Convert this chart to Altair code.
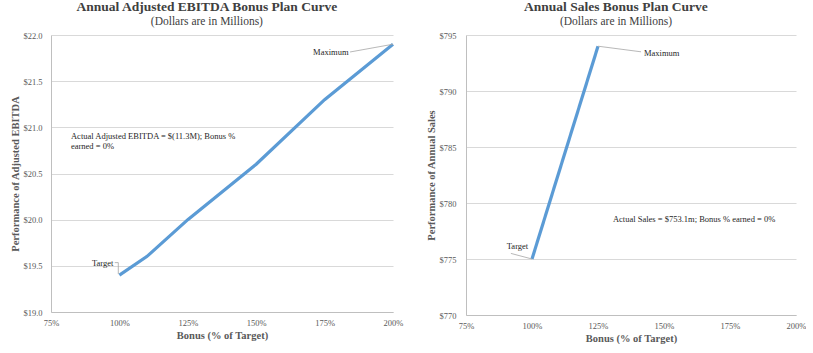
import altair as alt
import pandas as pd

# ---- data ----
ebitda_bonus = [1.00, 1.10, 1.25, 1.50, 1.75, 2.00]
ebitda_perf = [19.4, 19.6, 20.0, 20.6, 21.3, 21.9]
sales_bonus = [1.00, 1.25]
sales_perf = [775.0, 794.0]
x_ticks = [0.75, 1.00, 1.25, 1.50, 1.75, 2.00]
ebitda_ticks = [19.0, 19.5, 20.0, 20.5, 21.0, 21.5, 22.0]
sales_ticks = [770, 775, 780, 785, 790, 795]

# annotation labels (data coordinates)
ebitda_labels = ["Target", "Maximum", "Actual Adjusted EBITDA = $(11.3M); Bonus %\nearned = 0%"]
ebitda_lab_x = [0.978, 1.708, 0.823]
ebitda_lab_y = [19.535, 21.816, 20.906]
ebitda_lab_align = ["right", "left", "left"]
ebitda_lead_id = [0, 0, 0, 1, 1]
ebitda_lead_x = [0.983, 0.996, 0.996, 1.843, 2.00]
ebitda_lead_y = [19.535, 19.535, 19.41, 21.816, 21.90]

sales_labels = ["Target", "Maximum", "Actual Sales = $753.1m; Bonus % earned = 0%"]
sales_lab_x = [0.945, 1.424, 1.614]
sales_lab_y = [776.2, 793.4, 778.6]
sales_lab_align = ["center", "left", "center"]
sales_lead_id = [0, 0, 1, 1]
sales_lead_x = [0.920, 1.00, 1.413, 1.25]
sales_lead_y = [775.5, 775.0, 793.5, 794.0]

FONT = "Liberation Serif"
LINE_COLOR = "#5b9bd5"
TEXT_COLOR = "#404040"
AXIS_COLOR = "#595959"


def panel(title, xs, ys, yticks, ydomain, yfmt, ytitle, lab, labx, laby, labalign,
          lid, lx, ly, w, h, ylabpad, ytitlepad):
    xscale = alt.Scale(domain=[0.75, 2.0], nice=False, zero=False)
    yscale = alt.Scale(domain=ydomain, nice=False, zero=False)
    xaxis = alt.Axis(values=x_ticks, format=".0%", title="Bonus (% of Target)",
                     grid=False, ticks=False, labelPadding=6, titlePadding=4,
                     labelFlush=False, labelOverlap=False,
                     domainColor="#bfbfbf", labelFont=FONT, labelFontSize=8.5,
                     labelColor=AXIS_COLOR, titleFont=FONT, titleFontSize=10.5,
                     titleFontWeight="bold", titleColor=AXIS_COLOR)
    yaxis = alt.Axis(values=yticks, format=yfmt, title=ytitle, grid=True,
                     gridColor="#d9d9d9", ticks=False, labelPadding=ylabpad,
                     labelFlush=False, labelOverlap=False,
                     titlePadding=ytitlepad, domainColor="#bfbfbf", labelFont=FONT,
                     labelFontSize=8.5, labelColor=AXIS_COLOR, titleFont=FONT,
                     titleFontSize=10.5, titleFontWeight="bold", titleColor=AXIS_COLOR)

    df = pd.DataFrame({"x": xs, "y": ys})
    line = alt.Chart(df).mark_line(color=LINE_COLOR, strokeWidth=3.2).encode(
        x=alt.X("x:Q", scale=xscale, axis=xaxis),
        y=alt.Y("y:Q", scale=yscale, axis=yaxis),
    )

    ldf = pd.DataFrame({"id": lid, "x": lx, "y": ly, "o": list(range(len(lx)))})
    leaders = alt.Chart(ldf).mark_line(color="#a6a6a6", strokeWidth=0.8).encode(
        x=alt.X("x:Q", scale=xscale),
        y=alt.Y("y:Q", scale=yscale),
        detail="id:N",
        order="o:Q",
    )

    layers = [line, leaders]
    for t, tx, ty, ta in zip(lab, labx, laby, labalign):
        tdf = pd.DataFrame({"x": [tx], "y": [ty], "t": [t]})
        layers.append(
            alt.Chart(tdf).mark_text(font=FONT, fontSize=8.5, color="#262626",
                                     align=ta, baseline="middle", lineBreak="\n",
                                     lineHeight=9.5).encode(
                x=alt.X("x:Q", scale=xscale),
                y=alt.Y("y:Q", scale=yscale),
                text="t:N",
            )
        )

    return alt.layer(*layers).properties(
        width=w, height=h,
        title=alt.TitleParams(
            text=title, subtitle="(Dollars are in Millions)", font=FONT,
            fontSize=13.5, fontWeight="bold", color=TEXT_COLOR,
            subtitleFont=FONT, subtitleFontSize=11.5, subtitleColor=TEXT_COLOR,
            anchor="middle", frame="bounds", offset=4, subtitlePadding=2,
        ),
    )


left = panel("Annual Adjusted EBITDA Bonus Plan Curve", ebitda_bonus, ebitda_perf,
             ebitda_ticks, [19.0, 22.0], "$.1f", "Performance of Adjusted EBITDA",
             ebitda_labels, ebitda_lab_x, ebitda_lab_y, ebitda_lab_align,
             ebitda_lead_id, ebitda_lead_x, ebitda_lead_y, 342, 277, 9, 2)
right = panel("Annual Sales Bonus Plan Curve", sales_bonus, sales_perf,
              sales_ticks, [770, 795], "$.0f", "Performance of Annual Sales",
              sales_labels, sales_lab_x, sales_lab_y, sales_lab_align,
              sales_lead_id, sales_lead_x, sales_lead_y, 330, 280, 10, 3)

chart = alt.hconcat(left, right, spacing=23).properties(
    padding={"left": 10, "top": 0, "right": 0, "bottom": 0},
    background="white",
).configure_view(stroke=None)

chart.save("out.html", embed_options={"renderer": "svg", "actions": False})
